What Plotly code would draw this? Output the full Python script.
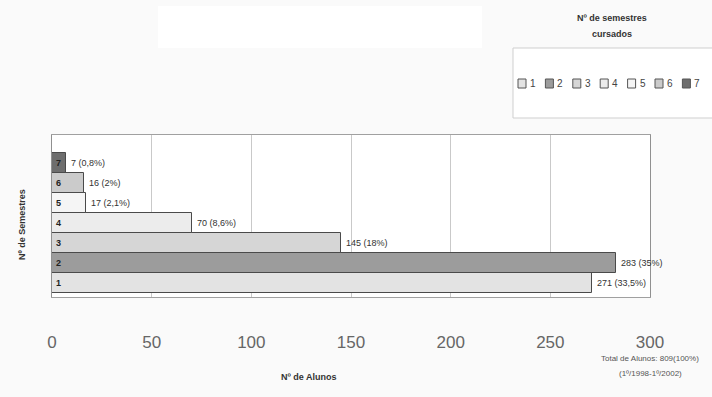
import plotly.graph_objects as go

# Students by number of semesters attended
semestres = [1, 2, 3, 4, 5, 6, 7]
alunos = [271, 283, 145, 70, 17, 16, 7]
percentuais = ["33,5%", "35%", "18%", "8,6%", "2,1%", "2%", "0,8%"]
cores = ["#e3e3e3", "#9c9c9c", "#d6d6d6", "#ececec", "#f5f5f5", "#cbcbcb", "#6e6e6e"]
x_ticks = [0, 50, 100, 150, 200, 250, 300]
total_alunos = 809
periodo = "(1º/1998-1º/2002)"

W, H = 712, 397
ML, MR, MT, MB = 52, 62, 135, 100
PW, PH = W - ML - MR, H - MT - MB


def px(x):
    return (x - ML) / PW


def py(y):
    return (H - MB - y) / PH


FONT = "Liberation Sans, Arial, sans-serif"


def note(x, y, text, size=9, color="#333", xanchor="center", angle=0):
    return dict(x=px(x), y=py(y), xref="paper", yref="paper", text=text,
                showarrow=False, xanchor=xanchor, yanchor="middle", textangle=angle,
                font=dict(family=FONT, size=size, color=color))


fig = go.Figure()
fig.add_trace(go.Bar(
    x=alunos, y=semestres, orientation="h", width=1,
    marker=dict(color=cores, line=dict(color="#4a4a4a", width=1)),
    showlegend=False, hoverinfo="x+y",
))

annotations = []
# semester number inside each bar and value label after it
for s, v, p in zip(semestres, alunos, percentuais):
    annotations.append(dict(x=0, y=s, xref="x", yref="y", text=f"<b>{s}</b>",
                            showarrow=False, xanchor="left", yanchor="middle", xshift=2,
                            font=dict(family=FONT, size=9, color="#222")))
    annotations.append(dict(x=v, y=s, xref="x", yref="y", text=f"{v} ({p})",
                            showarrow=False, xanchor="left", yanchor="middle", xshift=3,
                            font=dict(family=FONT, size=9, color="#333")))

# axis titles
annotations.append(note(308, 377, "<b>Nº de Alunos</b>"))
annotations.append(note(22, 225, "<b>Nº de Semestres</b>", angle=-90))

# total note
annotations.append(note(650, 358, f"Total de Alunos: {total_alunos}(100%)", size=8, color="#555"))
annotations.append(note(650, 373, periodo, size=8, color="#555"))

# legend title
annotations.append(note(612, 18, "<b>Nº de semestres</b>"))
annotations.append(note(612, 34, "<b>cursados</b>"))

shapes = [
    # white strip at the top
    dict(type="rect", xref="paper", yref="paper", x0=px(158), x1=px(482),
         y0=py(48), y1=py(6), fillcolor="white", line=dict(width=0), layer="below"),
    # legend frame
    dict(type="rect", xref="paper", yref="paper", x0=px(513), x1=px(716),
         y0=py(118), y1=py(48), fillcolor="white",
         line=dict(color="#cfcfcf", width=1), layer="below"),
]

# legend entries
for k, (s, c) in enumerate(zip(semestres, cores)):
    x0 = 518 + 27.4 * k
    shapes.append(dict(type="rect", xref="paper", yref="paper",
                       x0=px(x0), x1=px(x0 + 8), y0=py(88), y1=py(79),
                       fillcolor=c, line=dict(color="#555", width=1)))
    annotations.append(note(x0 + 10, 83.5, str(s), size=10, color="#444", xanchor="left"))

fig.update_layout(
    width=W, height=H,
    margin=dict(l=ML, r=MR, t=MT, b=MB),
    paper_bgcolor="#fafafa", plot_bgcolor="white",
    annotations=annotations, shapes=shapes,
    bargap=0,
    xaxis=dict(range=[0, 300], tickvals=x_ticks, showgrid=True,
               gridcolor="#c9c9c9", gridwidth=1, zeroline=False,
               showline=True, linecolor="#a0a0a0", mirror=True,
               ticks="outside", ticklen=30, tickcolor="rgba(0,0,0,0)",
               tickfont=dict(family=FONT, size=17, color="#666")),
    yaxis=dict(range=[0.3, 8.4], showticklabels=False, showgrid=False,
               zeroline=False, showline=True, linecolor="#909090", mirror=True),
    font=dict(family=FONT),
)

fig.write_html("out.html")
